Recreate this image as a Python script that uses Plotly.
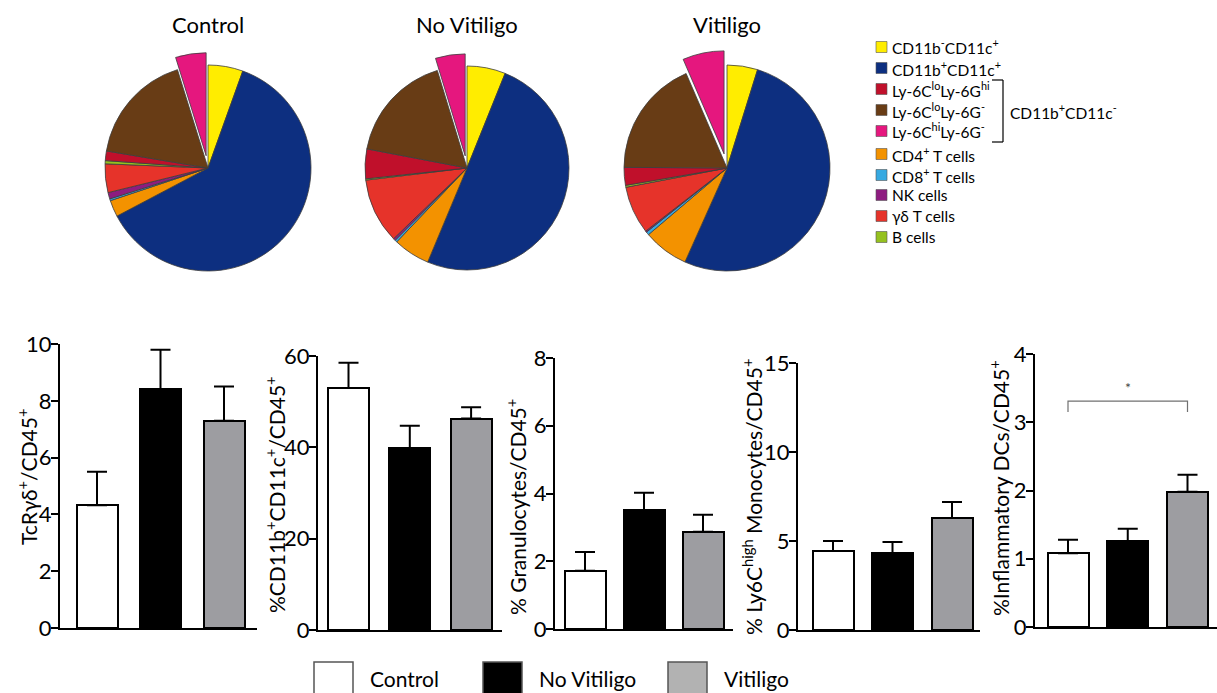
import plotly.graph_objects as go

W, H = 1217, 693

# ---------------- data ----------------
pie_groups = ["Control", "No Vitiligo", "Vitiligo"]
pie_labels = ["CD11b-CD11c+", "CD11b+CD11c+", "CD4+ T cells", "CD8+ T cells", "NK cells",
              "γδ T cells", "B cells", "Ly-6Clo Ly-6Ghi", "Ly-6Clo Ly-6G-", "Ly-6Chi Ly-6G-"]
control_pct = [5.5, 61.9, 2.6, 0.3, 1.0, 4.5, 0.5, 1.5, 17.6, 4.8]
novit_pct = [6.1, 50.2, 5.8, 0.35, 0.35, 10.3, 0.2, 4.7, 17.3, 4.7]
vit_pct = [4.8, 51.9, 7.1, 0.5, 0.2, 7.5, 0.3, 2.8, 18.4, 6.5]

legend_labels = ["CD11b<sup>-</sup>CD11c<sup>+</sup>", "CD11b<sup>+</sup>CD11c<sup>+</sup>",
                 "Ly-6C<sup>lo</sup>Ly-6G<sup>hi</sup>", "Ly-6C<sup>lo</sup>Ly-6G<sup>-</sup>",
                 "Ly-6C<sup>hi</sup>Ly-6G<sup>-</sup>", "CD4<sup>+</sup> T cells",
                 "CD8<sup>+</sup> T cells", "NK cells", "γδ T cells", "B cells"]
legend_keys = ["CD11b-CD11c+", "CD11b+CD11c+", "Ly-6Clo Ly-6Ghi", "Ly-6Clo Ly-6G-", "Ly-6Chi Ly-6G-",
               "CD4+ T cells", "CD8+ T cells", "NK cells", "γδ T cells", "B cells"]
bracket_label = "CD11b<sup>+</sup>CD11c<sup>-</sup>"

bar_groups = ["Control", "No Vitiligo", "Vitiligo"]
gd_mean = [4.32, 8.4, 7.3]
gd_sem = [1.18, 1.4, 1.2]
dc_mean = [53.0, 39.8, 46.3]
dc_sem = [5.5, 4.9, 2.5]
gran_mean = [1.72, 3.5, 2.87]
gran_sem = [0.55, 0.52, 0.5]
mono_mean = [4.44, 4.3, 6.29]
mono_sem = [0.56, 0.64, 0.9]
infl_mean = [1.08, 1.26, 1.98]
infl_sem = [0.2, 0.18, 0.25]
bar_titles = ["TcRγδ<sup>+</sup>/CD45<sup>+</sup>",
              "%CD11b<sup>+</sup>CD11c<sup>+</sup>/CD45<sup>+</sup>",
              "% Granulocytes/CD45<sup>+</sup>",
              "% Ly6C<sup>high</sup> Monocytes/CD45<sup>+</sup>",
              "%Inflammatory DCs/CD45<sup>+</sup>"]
sig_pair = [0, 2]
sig_y = [3.15, 3.31]

# ---------------- style ----------------
FONT = "Lato"
slice_colors = {
    "CD11b-CD11c+": "#FFED00", "CD11b+CD11c+": "#0D2F80", "CD4+ T cells": "#F39200",
    "CD8+ T cells": "#36A9E1", "NK cells": "#8E1C80", "γδ T cells": "#E6332A",
    "B cells": "#95C11F", "Ly-6Clo Ly-6Ghi": "#C0102B", "Ly-6Clo Ly-6G-": "#683C15",
    "Ly-6Chi Ly-6G-": "#E5177E"}
bar_colors = ["#FFFFFF", "#000000", "#9D9DA1"]
legend_fill = ["#FFFFFF", "#000000", "#B2B2B2"]


def fx(px):
    return px / W


def fy(py):
    return 1 - py / H


fig = go.Figure()
annotations = []
shapes = []

# ---------------- pies ----------------
pie_geom = [(208, 168, 103, 0.12), (467, 168, 102, 0.12), (727, 168, 103, 0.14)]
for vals, name, (cx, cy, r, pull) in zip([control_pct, novit_pct, vit_pct], pie_groups, pie_geom):
    half = r * (1 + pull)
    fig.add_trace(go.Pie(
        labels=pie_labels, values=vals, sort=False, direction="clockwise", rotation=0,
        pull=[0] * (len(vals) - 1) + [pull],
        marker=dict(colors=[slice_colors[l] for l in pie_labels], line=dict(color="#3c3c3c", width=0.8)),
        textinfo="none", showlegend=False, name=name, automargin=False,
        domain=dict(x=[fx(cx - half), fx(cx + half)], y=[fy(cy + half), fy(cy - half)])))
    annotations.append(dict(x=fx(cx), y=fy(25), xref="paper", yref="paper", text=name,
                            showarrow=False, font=dict(size=22, color="black", family=FONT),
                            xanchor="center", yanchor="middle"))

# pie legend
legend_rows_y = [47, 68, 89, 110, 131, 154, 175, 195, 216, 237]
for lab, key, yc in zip(legend_labels, legend_keys, legend_rows_y):
    shapes.append(dict(type="rect", xref="paper", yref="paper", x0=fx(876), x1=fx(887),
                       y0=fy(yc + 5.5), y1=fy(yc - 5.5), fillcolor=slice_colors[key],
                       line=dict(color="#555", width=0.6)))
    annotations.append(dict(x=fx(890), y=fy(yc), xref="paper", yref="paper", text=lab,
                            showarrow=False, font=dict(size=15.5, color="black", family=FONT),
                            xanchor="left", yanchor="middle"))
# bracket
bx, btop, bbot = 1003, 80, 142
for seg in [(992, btop, bx, btop), (bx, btop, bx, bbot), (992, bbot, bx, bbot)]:
    shapes.append(dict(type="line", xref="paper", yref="paper", x0=fx(seg[0]), y0=fy(seg[1]),
                       x1=fx(seg[2]), y1=fy(seg[3]), line=dict(color="black", width=1.2)))
annotations.append(dict(x=fx(1008), y=fy(111), xref="paper", yref="paper", text=bracket_label,
                        showarrow=False, font=dict(size=15.5, color="black", family=FONT),
                        xanchor="left", yanchor="middle"))

# ---------------- bar panels ----------------
panels = [
    dict(mean=gd_mean, sem=gd_sem, ymax=10, dtick=2, left=60, right=257, c0=97, sp=63.5, y0=628, ytop=344, tx=27, ty=477),
    dict(mean=dc_mean, sem=dc_sem, ymax=60, dtick=20, left=318, right=502, c0=348.5, sp=61.3, y0=630, ytop=356, tx=275, ty=495),
    dict(mean=gran_mean, sem=gran_sem, ymax=8, dtick=2, left=555, right=733, c0=585, sp=59, y0=629, ytop=358, tx=516, ty=507),
    dict(mean=mono_mean, sem=mono_sem, ymax=15, dtick=5, left=798, right=980, c0=833, sp=59.5, y0=630, ytop=363, tx=752, ty=497),
    dict(mean=infl_mean, sem=infl_sem, ymax=4, dtick=1, left=1035, right=1217, c0=1068, sp=59.75, y0=627, ytop=354, tx=999, ty=488),
]
layout_axes = {}
for k, (p, title) in enumerate(zip(panels, bar_titles), start=1):
    sfx = "" if k == 1 else str(k)
    fig.add_trace(go.Bar(
        x=list(range(len(bar_groups))), y=p["mean"], width=41 / p["sp"], name=title,
        marker=dict(color=bar_colors, line=dict(color="black", width=2)),
        error_y=dict(type="data", symmetric=False, array=p["sem"], arrayminus=[0] * len(p["sem"]),
                     color="black", thickness=2, width=10),
        hovertext=bar_groups, xaxis="x" + sfx, yaxis="y" + sfx, showlegend=False))
    layout_axes["xaxis" + sfx] = dict(
        domain=[fx(p["left"]), fx(p["right"])],
        range=[(p["left"] - p["c0"]) / p["sp"], (p["right"] - p["c0"]) / p["sp"]],
        showline=True, linecolor="black", linewidth=2, showticklabels=False, ticks="",
        showgrid=False, zeroline=False, anchor="y" + sfx, fixedrange=True, automargin=False)
    layout_axes["yaxis" + sfx] = dict(
        domain=[fy(p["y0"]), fy(p["ytop"])], range=[0, p["ymax"]], tickmode="linear", tick0=0,
        dtick=p["dtick"], ticks="outside", ticklen=7, tickwidth=2, tickcolor="black",
        showline=True, linewidth=2, linecolor="black", showgrid=False, zeroline=False,
        ticklabelstandoff=-5, automargin=False,
        tickfont=dict(size=22, color="black", family=FONT), anchor="x" + sfx, fixedrange=True)
    annotations.append(dict(x=fx(p["tx"]), y=fy(p["ty"]), xref="paper", yref="paper", text=title,
                            textangle=-90, showarrow=False,
                            font=dict(size=21, color="black", family=FONT),
                            xanchor="center", yanchor="middle"))

# significance bracket on last panel
fig.add_trace(go.Scatter(x=[sig_pair[0], sig_pair[0], sig_pair[1], sig_pair[1]],
                         y=[sig_y[0], sig_y[1], sig_y[1], sig_y[0]], mode="lines",
                         line=dict(color="#707070", width=1.2), xaxis="x5", yaxis="y5",
                         showlegend=False, hoverinfo="skip"))
annotations.append(dict(x=(sig_pair[0] + sig_pair[1]) / 2, y=sig_y[1] + 0.05, xref="x5", yref="y5",
                        text="*", showarrow=False, font=dict(size=14, color="#444", family=FONT),
                        xanchor="center", yanchor="bottom"))

# bottom legend
leg_x = [314, 483, 668]
for gname, fill, lx in zip(bar_groups, legend_fill, leg_x):
    shapes.append(dict(type="rect", xref="paper", yref="paper", x0=fx(lx), x1=fx(lx + 39),
                       y0=fy(703), y1=fy(662), fillcolor=fill, line=dict(color="#555", width=1.5)))
    annotations.append(dict(x=fx(lx + 54), y=fy(678), xref="paper", yref="paper", text=gname,
                            showarrow=False, font=dict(size=21, color="black", family=FONT),
                            xanchor="left", yanchor="middle"))

fig.update_layout(width=W, height=H, autosize=False,
                  margin=dict(l=0, r=0, t=0, b=0, pad=0, autoexpand=False),
                  paper_bgcolor="white", plot_bgcolor="white",
                  font=dict(family=FONT, color="black"),
                  annotations=annotations, shapes=shapes, bargap=0, **layout_axes)

fig.write_html("out.html", config={"displayModeBar": False},
               post_script="document.body.style.margin='0';document.body.style.overflow='hidden';")
